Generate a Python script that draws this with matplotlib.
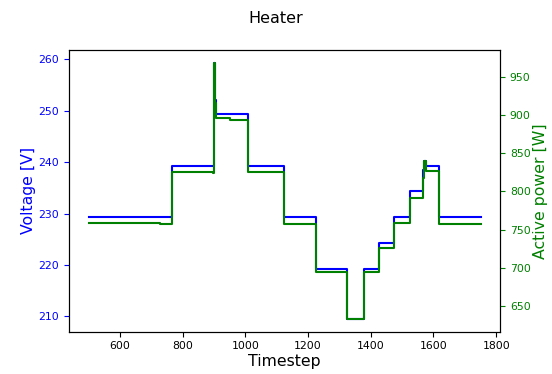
import matplotlib
matplotlib.use("Agg")
import matplotlib.pyplot as plt

# step breakpoints (value holds until the next timestep)
timestep = [500, 727, 766, 898, 900, 904, 907, 951, 1008, 1122, 1225, 1323,
            1379, 1427, 1473, 1525, 1565, 1571, 1576, 1619, 1750]
voltage = [229.4, 229.4, 239.3, 239.3, 259.3, 252.0, 249.4, 249.4, 239.3, 229.4,
           219.3, 209.5, 219.3, 224.3, 229.3, 234.3, 238.5, 240.3, 239.3, 229.4, 229.4]
power = [758.7, 757.5, 825.0, 824.0, 968.0, 915.0, 896.4, 893.9, 825.0, 757.4,
         694.0, 633.0, 694.0, 725.4, 758.7, 791.3, 818.0, 840.0, 826.0, 757.4, 757.4]

fig = plt.figure(figsize=(5.52, 3.74), dpi=100)
ax1 = fig.add_axes([0.125, 0.113, 0.781, 0.753])
ax1.plot(timestep, voltage, color="blue", drawstyle="steps-post", lw=1.5)
ax1.set_xlabel("Timestep", fontsize=11.3, labelpad=2)
ax1.set_ylabel("Voltage [V]", color="blue", fontsize=11.3, labelpad=2)
ax1.tick_params(axis="y", colors="blue", labelsize=7.8)
ax1.tick_params(axis="x", labelsize=7.8)
ax1.spines["left"].set_color("black")

ax2 = ax1.twinx()
ax2.plot(timestep, power, color="green", drawstyle="steps-post", lw=1.5)
ax2.set_ylabel("Active power [W]", color="green", fontsize=11.3, labelpad=2)
ax2.tick_params(axis="y", colors="green", labelsize=7.8)
ax2.spines["right"].set_color("black")

fig.suptitle("Heater", fontsize=11.5, y=0.97)
fig.savefig("out.png", dpi=100)
